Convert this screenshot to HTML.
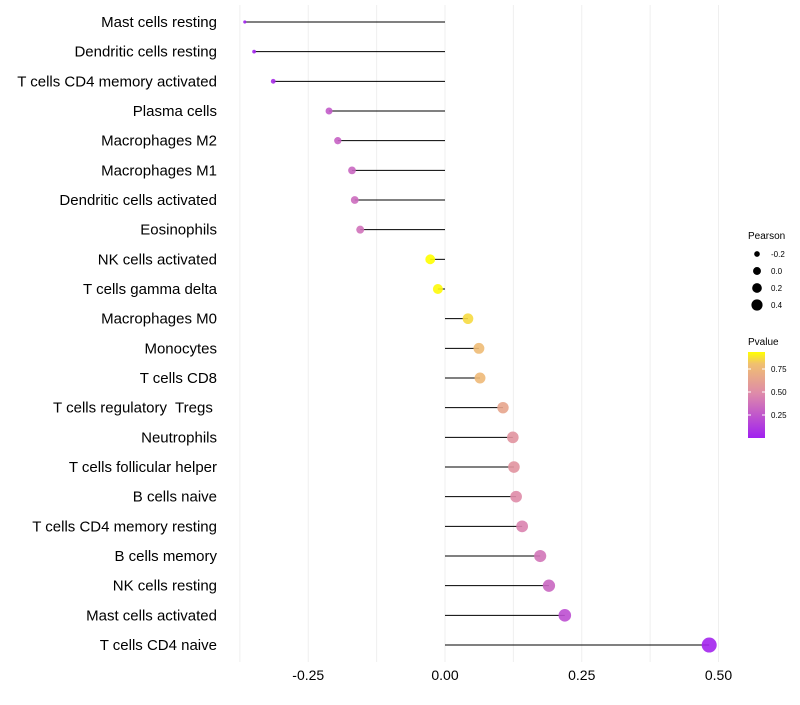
<!DOCTYPE html>
<html><head><meta charset="utf-8"><style>
body{margin:0;background:#fff;font-family:"Liberation Sans",sans-serif}
</style></head><body>
<svg id="chart" width="800" height="700" xmlns="http://www.w3.org/2000/svg" font-family="Liberation Sans, sans-serif"></svg>
<script>
const categories=["Mast cells resting","Dendritic cells resting","T cells CD4 memory activated","Plasma cells","Macrophages M2","Macrophages M1","Dendritic cells activated","Eosinophils","NK cells activated","T cells gamma delta","Macrophages M0","Monocytes","T cells CD8","T cells regulatory  Tregs ","Neutrophils","T cells follicular helper","B cells naive","T cells CD4 memory resting","B cells memory","NK cells resting","Mast cells activated","T cells CD4 naive"];
const pearson=[-0.366,-0.349,-0.314,-0.212,-0.196,-0.170,-0.165,-0.155,-0.027,-0.013,0.042,0.062,0.064,0.106,0.124,0.126,0.130,0.141,0.174,0.190,0.219,0.483];
const pvalue=[0.01,0.02,0.05,0.25,0.28,0.30,0.32,0.35,0.87,0.86,0.80,0.72,0.71,0.60,0.50,0.50,0.46,0.42,0.36,0.30,0.20,0.02];
const xTicks=[-0.25,0,0.25,0.5];
const xTickLabels=["-0.25","0.00","0.25","0.50"];
const xMinor=[-0.375,-0.125,0.125,0.375];
const sizeLegend=[-0.2,0,0.2,0.4];
const pLegend=[0.25,0.5,0.75];

const svg=document.getElementById('chart');const NS="http://www.w3.org/2000/svg";
function mk(t,a,parent){const e=document.createElementNS(NS,t);for(const k in a)e.setAttribute(k,a[k]);(parent||svg).appendChild(e);return e;}
const x=v=>445+v*547;
const y=i=>22+i*29.667;
const r=v=>Math.sqrt(Math.max(0.5,2.25+(v+0.37)*63.5));
const stops=[[0,[160,32,240]],[0.45,[222,138,170]],[0.75,[240,192,112]],[0.87,[255,255,0]]];
function col(p){p=Math.max(0,Math.min(0.87,p));for(let i=1;i<stops.length;i++){if(p<=stops[i][0]){const a=stops[i-1],b=stops[i],t=(p-a[0])/(b[0]-a[0]);return 'rgb('+a[1].map((c,j)=>Math.round(c+(b[1][j]-c)*t)).join(',')+')';}}return 'rgb(255,255,0)';}

xMinor.concat(xTicks).forEach(v=>{const g=mk('line',{x1:x(v),x2:x(v),y1:5,y2:662,stroke:'#efefef','stroke-width':1});

});
xTicks.forEach((v,i)=>{const t=mk('text',{x:x(v),y:680,'text-anchor':'middle','font-size':14,fill:'#000'});t.textContent=xTickLabels[i];

});
categories.forEach((c,i)=>{
const t=mk('text',{x:217,y:y(i)+5,'text-anchor':'end','font-size':15,fill:'#000'});t.textContent=c;
t.setAttribute('xml:space','preserve');t.style.whiteSpace='pre';


const l=mk('line',{x1:x(0),x2:x(pearson[i]),y1:y(i),y2:y(i),stroke:'#000','stroke-width':1});


const d=mk('circle',{cx:x(pearson[i]),cy:y(i),r:r(pearson[i]),fill:col(pvalue[i]),'fill-opacity':0.9});


});
let t=mk('text',{x:748,y:239,'font-size':10});t.textContent='Pearson';


sizeLegend.forEach((v,i)=>{const cy=254+i*17;const c=mk('circle',{cx:757,cy:cy,r:r(v)*0.78,fill:'#000'});


const tt=mk('text',{x:771,y:cy+3,'font-size':8});tt.textContent=(v===0?'0.0':String(v));

});
t=mk('text',{x:748,y:345,'font-size':10});t.textContent='Pvalue';


const defs=mk('defs',{});const lg=mk('linearGradient',{id:'pg',x1:0,y1:1,x2:0,y2:0},defs);
stops.forEach(s=>mk('stop',{offset:s[0]/0.87,'stop-color':'rgb('+s[1].join(',')+')'},lg));
const bar=mk('rect',{x:748,y:352,width:17,height:86,fill:'url(#pg)'});


pLegend.forEach(p=>{const yy=438-p*92;mk('line',{x1:748,x2:751,y1:yy,y2:yy,stroke:'#fff'});mk('line',{x1:762,x2:765,y1:yy,y2:yy,stroke:'#fff'});
const tt=mk('text',{x:771,y:yy+3,'font-size':8});tt.textContent=p.toFixed(2);

});
</script>
</body></html>
